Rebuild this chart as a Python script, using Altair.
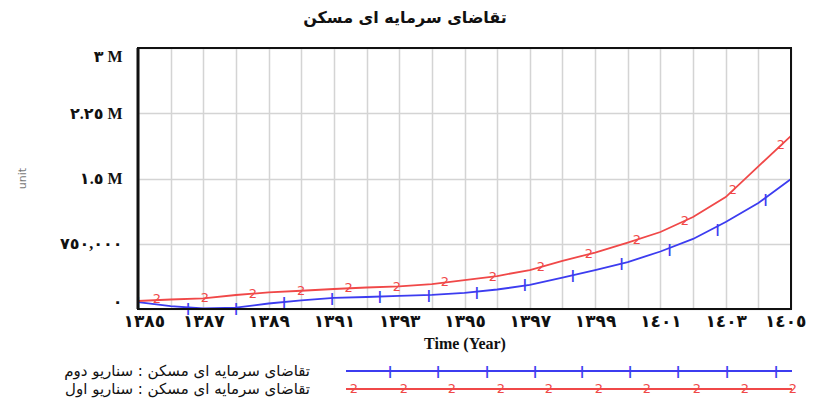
import altair as alt
import pandas as pd

# ---------------- data ----------------
title_text = "تقاضای سرمایه ای مسکن"
series_names = ["تقاضای سرمایه ای مسکن : سناریو دوم", "تقاضای سرمایه ای مسکن : سناریو اول"]
series_colors = ["#3c3cf0", "#f04848"]

years = list(range(1385, 1406))
scenario2 = [80000, 34000, 6000, 15000, 63000, 98000, 129000, 138000, 152000, 163000,
             186000, 224000, 276000, 362000, 448000, 540000, 661000, 805000, 1000000,
             1218000, 1494000]
scenario1 = [92000, 109000, 123000, 161000, 190000, 210000, 230000, 247000, 259000, 287000,
             333000, 379000, 448000, 552000, 649000, 764000, 885000, 1057000, 1287000,
             1640000, 1989000]

marker2_years = [1385.0, 1386.53, 1388.0, 1389.47, 1390.94, 1392.41, 1393.91, 1395.38,
                 1396.85, 1398.32, 1399.81, 1401.28, 1402.75, 1404.22]
marker2_vals = [80000, 10000, 15000, 85000, 128000, 145000, 160000, 200000, 287000,
                390000, 525000, 695000, 925000, 1265000]
marker1_years = [1385.58, 1387.05, 1388.52, 1390.0, 1391.45, 1392.93, 1394.4, 1395.87,
                 1397.34, 1398.81, 1400.28, 1401.75, 1403.22, 1404.69]
marker1_vals = [110000, 125000, 176000, 210000, 238000, 258000, 305000, 373000, 480000,
                630000, 797000, 1015000, 1370000, 1890000]

x_tick_years = list(range(1385, 1406))
x_tick_labels = ["١٣٨٥", "", "١٣٨٧", "", "١٣٨٩", "", "١٣٩١", "", "١٣٩٣", "", "١٣٩٥", "",
                 "١٣٩٧", "", "١٣٩٩", "", "١٤٠١", "", "١٤٠٣", "", "١٤٠٥"]
y_tick_values = [0, 750000, 1500000, 2250000, 3000000]
y_tick_labels = ["٠", "٧٥٠,٠٠٠", "١.٥ M", "٢.٢٥ M", "٣ M"]

x_title = "Time (Year)"
y_title = "unit"

# legend marker slots (pixel offsets inside the legend strip)
legend_marks_blue = [252, 300, 349, 397, 444, 492, 540, 589, 638]
legend_marks_red = [216, 266, 314, 363, 411, 461, 509, 559, 607, 655]

# ---------------- tables ----------------
lines = pd.DataFrame({
    "year": years * 2,
    "value": scenario2 + scenario1,
    "series": [series_names[0]] * len(years) + [series_names[1]] * len(years),
})
marks2 = pd.DataFrame({"year": marker2_years, "value": marker2_vals})
marks1 = pd.DataFrame({"year": marker1_years, "value": marker1_vals})

xlab = "{" + ",".join(f'"{y}":"{l}"' for y, l in zip(x_tick_years, x_tick_labels)) + "}"
ylab = "{" + ",".join(f'"{v}":"{l}"' for v, l in zip(y_tick_values, y_tick_labels)) + "}"

W, H = 653, 261
FONT = "Liberation Serif, DejaVu Sans"

xscale = alt.Scale(domain=[1385, 1405], nice=False, zero=False)
yscale = alt.Scale(domain=[0, 3000000], nice=False)
cscale = alt.Scale(domain=series_names, range=series_colors)

x_enc = alt.X("year:Q", scale=xscale, axis=alt.Axis(
    values=x_tick_years, labelExpr=f"{xlab}[datum.value]", title=x_title,
    grid=True, gridColor="#d4d4d4", gridWidth=1.5, ticks=False, domain=False,
    labelFont=FONT, labelFontSize=17, labelFontWeight="bold", labelColor="#111",
    labelPadding=4, labelOverlap=False, labelFlush=True, labelFlushOffset=15,
    titleFont=FONT, titleFontSize=16, titleFontWeight="bold", titleColor="#111",
    titleY=34, titleBaseline="middle"))
y_enc = alt.Y("value:Q", scale=yscale, axis=alt.Axis(
    values=y_tick_values, labelExpr=f"{ylab}[datum.value]", title=y_title,
    grid=True, gridColor="#d4d4d4", gridWidth=1.5, ticks=False, domain=False,
    labelFont=FONT, labelFontSize=16, labelFontWeight="bold", labelColor="#111",
    labelPadding=16, labelFlush=True,
    titleFont="DejaVu Sans", titleFontSize=11, titleFontWeight="normal",
    titleColor="#777", titleX=-116, titleY=130, titleAngle=-90, titleBaseline="middle"))

line_layer = alt.Chart(lines).mark_line(strokeWidth=1.8).encode(
    x=x_enc, y=y_enc,
    color=alt.Color("series:N", scale=cscale, legend=None))

m2_layer = alt.Chart(marks2).mark_text(text="|", fontSize=13, color=series_colors[0],
                                       fontWeight="bold").encode(
    x=alt.X("year:Q", scale=xscale, axis=None),
    y=alt.Y("value:Q", scale=yscale, axis=None))
m1_layer = alt.Chart(marks1).mark_text(text="2", fontSize=13, color=series_colors[1],
                                       font="DejaVu Sans").encode(
    x=alt.X("year:Q", scale=xscale, axis=None),
    y=alt.Y("value:Q", scale=yscale, axis=None))

# plot frame drawn above the gridlines
frame = alt.Chart(pd.DataFrame({"a": [0]})).mark_rect(
    filled=False, stroke="#111", strokeWidth=2).encode(
    x=alt.value(0), x2=alt.value(W), y=alt.value(0), y2=alt.value(H))
frame_left = alt.Chart(pd.DataFrame({"a": [0]})).mark_rule(
    color="#111", strokeWidth=3).encode(
    x=alt.value(0), y=alt.value(0), y2=alt.value(H))

title_layer = alt.Chart(pd.DataFrame({"t": [title_text]})).mark_text(
    fontSize=16, font="DejaVu Sans", fontWeight="bold", color="#111").encode(
    text="t:N", x=alt.value(267), y=alt.value(-30))

# custom legend under the chart
LEG_Y1, LEG_Y2 = 323, 341
leg_text_blue = alt.Chart(pd.DataFrame({"t": [series_names[0]]})).mark_text(
    fontSize=15, font="DejaVu Sans", align="right", color="#111").encode(
    text="t:N", x=alt.value(172), y=alt.value(LEG_Y1))
leg_text_red = alt.Chart(pd.DataFrame({"t": [series_names[1]]})).mark_text(
    fontSize=15, font="DejaVu Sans", align="right", color="#111").encode(
    text="t:N", x=alt.value(172), y=alt.value(LEG_Y2))
leg_line_blue = alt.Chart(pd.DataFrame({"a": [0]})).mark_rule(
    color=series_colors[0], strokeWidth=1.8).encode(
    x=alt.value(208), x2=alt.value(654), y=alt.value(LEG_Y1))
leg_line_red = alt.Chart(pd.DataFrame({"a": [0]})).mark_rule(
    color=series_colors[1], strokeWidth=1.8).encode(
    x=alt.value(208), x2=alt.value(654), y=alt.value(LEG_Y2))
leg_m_blue = alt.Chart(pd.DataFrame({"px": legend_marks_blue})).mark_text(
    text="|", fontSize=13, fontWeight="bold", color=series_colors[0]).encode(
    x=alt.X("px:Q", scale=None, axis=None), y=alt.value(LEG_Y1))
leg_m_red = alt.Chart(pd.DataFrame({"px": legend_marks_red})).mark_text(
    text="2", fontSize=13, font="DejaVu Sans", color=series_colors[1]).encode(
    x=alt.X("px:Q", scale=None, axis=None), y=alt.value(LEG_Y2))

chart = alt.layer(
    line_layer, m2_layer, m1_layer, frame, frame_left, title_layer,
    leg_text_blue, leg_text_red, leg_line_blue, leg_line_red, leg_m_blue, leg_m_red,
).resolve_scale(x="independent", y="independent").properties(
    width=W, height=H,
    background="white",
    autosize=alt.AutoSizeParams(type="none"),
    padding={"left": 130, "top": 40, "right": 16, "bottom": 92},
).configure_view(stroke=None)

chart.save("out.html", embed_options={"renderer": "svg", "actions": False})
